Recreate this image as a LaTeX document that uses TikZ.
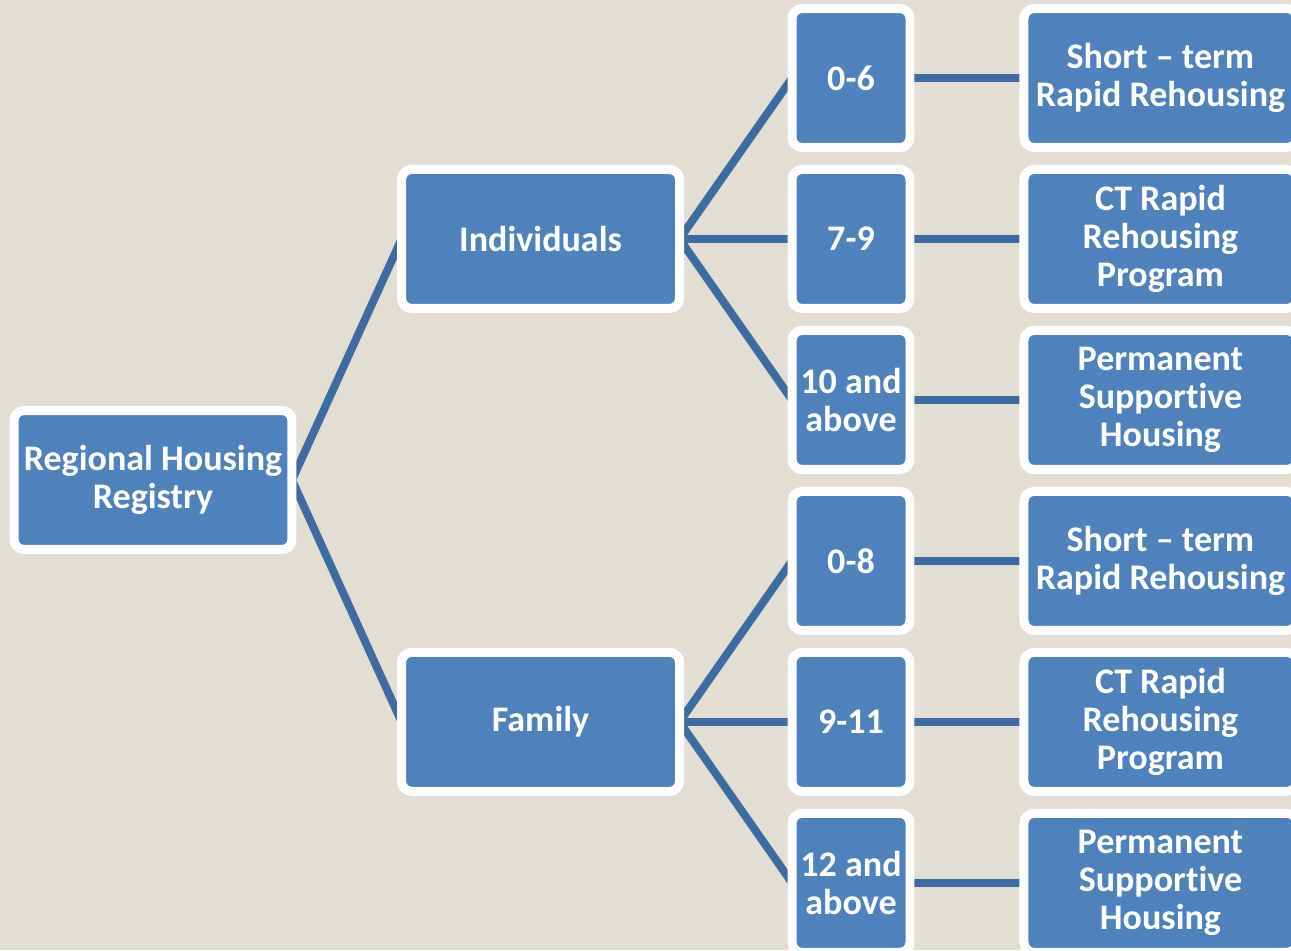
\documentclass[tikz,border=0pt]{standalone}
\usepackage{fontspec}
\setmainfont[Ligatures=NoCommon]{Carlito}
\usepackage{xcolor}
\usepackage{tikz}
\usetikzlibrary{positioning}
\definecolor{paper}{HTML}{E3DED3}
\definecolor{boxblue}{HTML}{4F81BD}
\definecolor{linkblue}{HTML}{3F6CA0}
\pgfdeclarelayer{paper}
\pgfdeclarelayer{links}
\pgfsetlayers{paper,links,main}

\begin{document}
\begin{tikzpicture}
      [ x=0.02cm, y=-0.02cm,
        node distance=0.44cm and 2.28cm,
        box/.style={draw=white, line width=0.18cm, fill=boxblue,
          rounded corners=0.2cm, text=white, align=center,
          font=\fontsize{20.5}{21.8}\selectfont\bfseries,
          inner sep=0pt, outer sep=0pt, minimum height=2.78cm},
        wide/.style={box, minimum width=5.56cm},
        age/.style={box, minimum width=2.36cm},
        offer/.style={box, minimum width=5.46cm},
        link/.style={draw=linkblue, line width=0.16cm}
      ]
      \useasboundingbox (0,0) rectangle (1291,950);
      \clip (0,0) rectangle (1291,950);

      \node[age]   (a_1) at (851,78)       {0-6};
      \node[age]   (a_2) [below=of a_1]    {7-9};
      \node[age]   (a_3) [below=of a_2]    {10 and\\above};
      \node[age]   (a_4) [below=of a_3]    {0-8};
      \node[age]   (a_5) [below=of a_4]    {9-11};
      \node[age]   (a_6) [below=of a_5]    {12 and\\above};

      \node[offer] (p_1) [right=of a_1]    {Short – term\\Rapid Rehousing};
      \node[offer] (p_2) [right=of a_2]    {CT Rapid\\Rehousing\\Program};
      \node[offer] (p_3) [right=of a_3]    {Permanent\\Supportive\\Housing};
      \node[offer] (p_4) [right=of a_4]    {Short – term\\Rapid Rehousing};
      \node[offer] (p_5) [right=of a_5]    {CT Rapid\\Rehousing\\Program};
      \node[offer] (p_6) [right=of a_6]    {Permanent\\Supportive\\Housing};

      \node[wide]  (ind) [left=2.25cm of a_2] {Individuals};
      \node[wide]  (fam) [left=2.25cm of a_5] {Family};
      \node[wide]  (reg) at (153,480)      {Regional Housing\\Registry};

      \begin{pgfonlayer}{paper}
        \fill[paper] (0,0) rectangle (1291,950);
      \end{pgfonlayer}

      \begin{pgfonlayer}{links}
        \path[link] (reg.east) edge (ind.west)
                               edge (fam.west)
                    (ind.east) edge (a_1.west)
                               edge (a_2.west)
                               edge (a_3.west)
                    (fam.east) edge (a_4.west)
                               edge (a_5.west)
                               edge (a_6.west)
                    (a_1) edge (p_1) (a_2) edge (p_2) (a_3) edge (p_3)
                    (a_4) edge (p_4) (a_5) edge (p_5) (a_6) edge (p_6);
      \end{pgfonlayer}
    \end{tikzpicture}
\end{document}
